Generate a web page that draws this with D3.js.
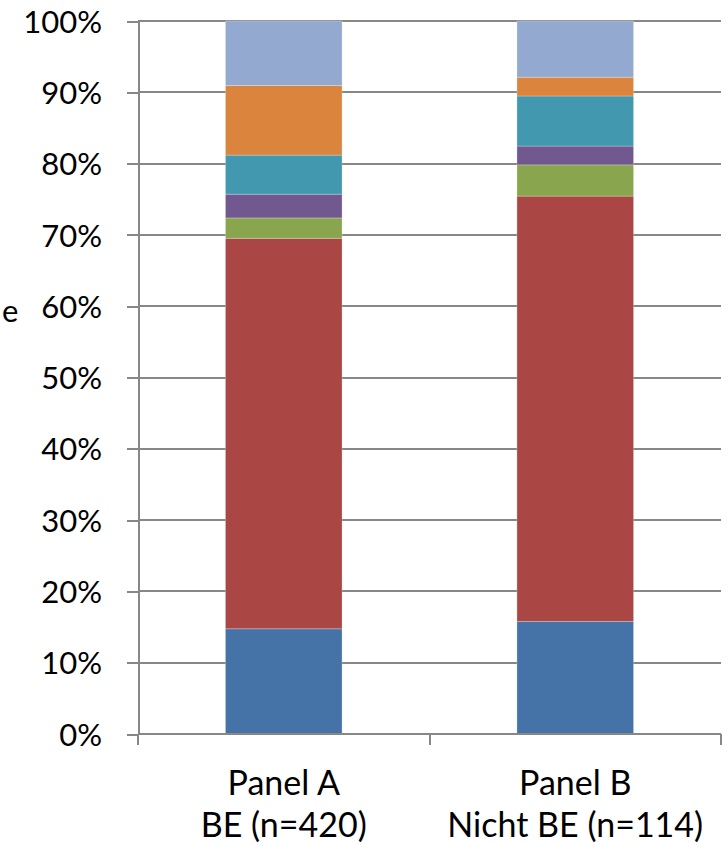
<!DOCTYPE html>
<html lang="de">
<head>
    <meta charset="UTF-8">
    <title>Panel A / Panel B</title>
    <script src="https://d3js.org/d3.v7.min.js"></script>
    <style>
        body {
            margin: 0;
            padding: 0;
            background: #fff;
            font-family: Lato, "Open Sans", sans-serif;
        }
        svg {
            display: block;
        }
        .axis path,
        .axis line {
            stroke: #878787;
            stroke-width: 2px;
            shape-rendering: crispEdges;
        }
        .axis text {
            font-family: Lato, "Open Sans", sans-serif;
            font-size: 31px;
            fill: #000;
        }
        .axis text.cat {
            font-size: 34px;
        }
        .grid line {
            stroke: #878787;
            stroke-width: 2px;
            shape-rendering: crispEdges;
        }
    </style>
</head>
<body>
    <div id="chart">
        <svg width="727" height="844"></svg>
    </div>

    <script>
        // Kategorien (zweizeilige Beschriftung)
        const categories = ["Panel A", "Panel B"];
        const categoryLines = [
            ["Panel A", "BE (n=420)"],
            ["Panel B", "Nicht BE (n=114)"]
        ];

        // Anteile in % je Segment, von unten nach oben
        const seriesKeys = ["s1", "s2", "s3", "s4", "s5", "s6", "s7"];
        const panelA = [14.76, 54.76, 2.86, 3.33, 5.48, 9.76, 9.05];
        const panelB = [15.79, 59.65, 4.39, 2.63, 7.02, 2.63, 7.89];
        const colors = ["#4572A7", "#AA4643", "#89A54E", "#71588F", "#4198AF", "#DB843D", "#93A9CF"];

        const yTicks = [0, 0.1, 0.2, 0.3, 0.4, 0.5, 0.6, 0.7, 0.8, 0.9, 1.0];

        const margin = { top: 21, right: 6, bottom: 110, left: 138 };
        const width = 727 - margin.left - margin.right;
        const height = 844 - margin.top - margin.bottom;

        const rows = [panelA, panelB].map((vals, i) => {
            const row = { cat: categories[i] };
            seriesKeys.forEach((k, j) => row[k] = vals[j] / 100);
            return row;
        });
        const stacked = d3.stack().keys(seriesKeys)(rows);

        const svg = d3.select("#chart svg")
            .append("g")
            .attr("transform", `translate(${margin.left},${margin.top})`);

        const xOuter = d3.scaleBand()
            .domain(categories)
            .range([0, width])
            .padding(0);

        const x = d3.scaleBand()
            .domain(categories)
            .range([0, width])
            .paddingInner(0.6)
            .paddingOuter(0.3);

        const y = d3.scaleLinear()
            .domain([0, 1])
            .range([height, 0]);

        // Gitterlinien
        svg.append("g")
            .attr("class", "grid")
            .selectAll("line")
            .data(yTicks.filter(d => d > 0))
            .enter()
            .append("line")
            .attr("x1", 0)
            .attr("x2", width)
            .attr("y1", d => Math.round(y(d)))
            .attr("y2", d => Math.round(y(d)));

        // Balken
        svg.selectAll(".layer")
            .data(stacked)
            .enter()
            .append("g")
            .attr("class", "layer")
            .attr("fill", (d, i) => colors[i])
            .selectAll("rect")
            .data(d => d)
            .enter()
            .append("rect")
            .attr("x", d => x(d.data.cat))
            .attr("width", x.bandwidth())
            .attr("y", d => y(d[1]))
            .attr("height", d => y(d[0]) - y(d[1]))
            .attr("stroke", "rgba(255,255,255,0.25)")
            .attr("stroke-width", 1);

        // y-Achse
        const yAxis = svg.append("g")
            .attr("class", "axis")
            .call(d3.axisLeft(y)
                .tickValues(yTicks)
                .tickFormat(d3.format(".0%"))
                .tickSize(11)
                .tickSizeOuter(0)
                .tickPadding(25));
        yAxis.selectAll("text").attr("dy", "0.36em");

        // x-Achse: Linie und Trennstriche an den Kategoriegrenzen
        const xAxis = svg.append("g")
            .attr("class", "axis")
            .attr("transform", `translate(0,${height})`);

        xAxis.append("line")
            .attr("x1", 0)
            .attr("x2", width)
            .attr("y1", 0)
            .attr("y2", 0);

        const bounds = categories.map(c => xOuter(c)).concat([width]);
        xAxis.selectAll(".sep")
            .data(bounds)
            .enter()
            .append("line")
            .attr("class", "sep")
            .attr("x1", d => d)
            .attr("x2", d => d)
            .attr("y1", 0)
            .attr("y2", 11);

        const labels = xAxis.selectAll(".cat")
            .data(categoryLines)
            .enter()
            .append("text")
            .attr("class", "cat")
            .attr("text-anchor", "middle")
            .attr("transform", (d, i) => `translate(${xOuter(categories[i]) + xOuter.bandwidth() / 2},0)`);

        labels.selectAll("tspan")
            .data(d => d)
            .enter()
            .append("tspan")
            .attr("x", 0)
            .attr("y", (d, i) => 61 + i * 42)
            .text(d => d);

        // abgeschnittener Rest des Achsentitels
        d3.select("#chart svg")
            .append("text")
            .attr("x", 2)
            .attr("y", margin.top + y(0.6) + 16)
            .attr("text-anchor", "start")
            .style("font-family", "Lato, 'Open Sans', sans-serif")
            .style("font-size", "31px")
            .text("e");
    </script>
</body>
</html>
